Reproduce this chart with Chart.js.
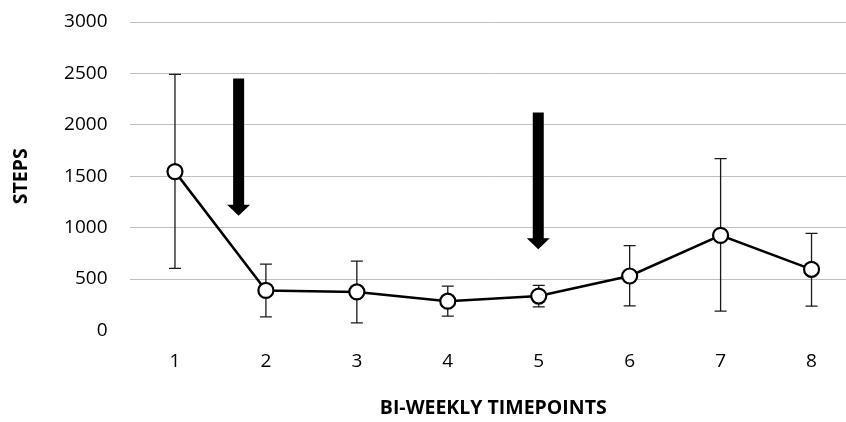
<!DOCTYPE html>
<html>
<head>
<meta charset="utf-8">
<script src="https://cdn.jsdelivr.net/npm/chart.js@4/dist/chart.umd.min.js"></script>
<style>
  html, body { margin: 0; padding: 0; background: #fff; overflow: hidden; }
  canvas { display: block; }
</style>
</head>
<body>
<canvas id="stepsChart" width="857" height="422"></canvas>
<script>
const timepoints = ['1', '2', '3', '4', '5', '6', '7', '8'];
const steps = [1545, 390, 375, 285, 335, 530, 925, 595];
const stepsHigh = [2490, 645, 675, 432, 438, 825, 1672, 945];
const stepsLow = [605, 132, 75, 140, 230, 240, 188, 237];
const yTicks = [0, 500, 1000, 1500, 2000, 2500, 3000];

// arrows: position on the category axis (index), top and tip in steps
const arrowAt = [0.70, 3.995];
const arrowTop = [2450, 2120];
const arrowTip = [1115, 790];

const ctx = document.getElementById('stepsChart').getContext('2d');
const font = 'Open Sans';

const errorBars = {
    id: 'errorBars',
    beforeDatasetsDraw(chart) {
        const x = chart.scales.x, y = chart.scales.y, c = chart.ctx;
        c.save();
        c.strokeStyle = '#1a1a1a';
        c.lineWidth = 1.3;
        steps.forEach((v, i) => {
            const px = x.getPixelForValue(i);
            const top = y.getPixelForValue(stepsHigh[i]);
            const bot = y.getPixelForValue(stepsLow[i]);
            c.beginPath();
            c.moveTo(px, top); c.lineTo(px, bot);
            c.moveTo(px - 6, top); c.lineTo(px + 6, top);
            c.moveTo(px - 6, bot); c.lineTo(px + 6, bot);
            c.stroke();
        });
        c.restore();
    }
};

const arrows = {
    id: 'arrows',
    afterDatasetsDraw(chart) {
        const x = chart.scales.x, y = chart.scales.y, c = chart.ctx;
        c.save();
        c.fillStyle = '#000';
        arrowAt.forEach((a, i) => {
            const px = x.getPixelForValue(a);
            const top = y.getPixelForValue(arrowTop[i]);
            const tip = y.getPixelForValue(arrowTip[i]);
            const headH = 11;
            c.beginPath();
            c.moveTo(px - 5.5, top);
            c.lineTo(px + 5.5, top);
            c.lineTo(px + 5.5, tip - headH);
            c.lineTo(px + 11.5, tip - headH);
            c.lineTo(px, tip);
            c.lineTo(px - 11.5, tip - headH);
            c.lineTo(px - 5.5, tip - headH);
            c.closePath();
            c.fill();
        });
        c.restore();
    }
};

new Chart(ctx, {
    type: 'line',
    data: {
        labels: timepoints,
        datasets: [{
            label: 'Steps',
            data: steps,
            borderColor: '#000',
            borderWidth: 2.5,
            tension: 0,
            pointRadius: 7.5,
            pointBorderWidth: 2.2,
            pointBackgroundColor: '#fff',
            pointBorderColor: '#000'
        }]
    },
    options: {
        responsive: false,
        animation: false,
        layout: { autoPadding: false, padding: { top: 22, left: 0, right: 0, bottom: 0 } },
        plugins: { legend: { display: false }, tooltip: { enabled: false } },
        scales: {
            x: {
                offset: true,
                grid: { display: false, drawTicks: false },
                border: { display: false },
                ticks: { color: '#000', padding: 20, font: { family: font, size: 19 } },
                title: {
                    display: true,
                    text: 'BI-WEEKLY TIMEPOINTS',
                    color: '#000',
                    padding: { top: 0, bottom: 2 },
                    font: { family: font, size: 19.5, weight: 'bold' }
                },
                afterFit(scale) { scale.height = 91.5; scale.paddingTop = 0; scale.paddingBottom = 0; }
            },
            y: {
                min: 0,
                max: 3000,
                afterBuildTicks(scale) { scale.ticks = yTicks.map(v => ({ value: v })); },
                grid: {
                    drawTicks: false,
                    color: c => c.tick && c.tick.value === 0 ? 'rgba(0,0,0,0)' : '#bfbfbf',
                    lineWidth: 1
                },
                border: { display: false },
                ticks: {
                    color: '#000', padding: 22, font: { family: font, size: 19 },
                    callback: v => String(v)
                },
                title: {
                    display: true,
                    text: 'STEPS',
                    color: '#000',
                    padding: { top: 10, bottom: 0 },
                    font: { family: font, size: 19.5, weight: 'bold' }
                },
                afterFit(scale) { scale.width = 129.5; scale.paddingTop = 0; scale.paddingBottom = 0; }
            }
        }
    },
    plugins: [errorBars, arrows]
});
</script>
</body>
</html>
